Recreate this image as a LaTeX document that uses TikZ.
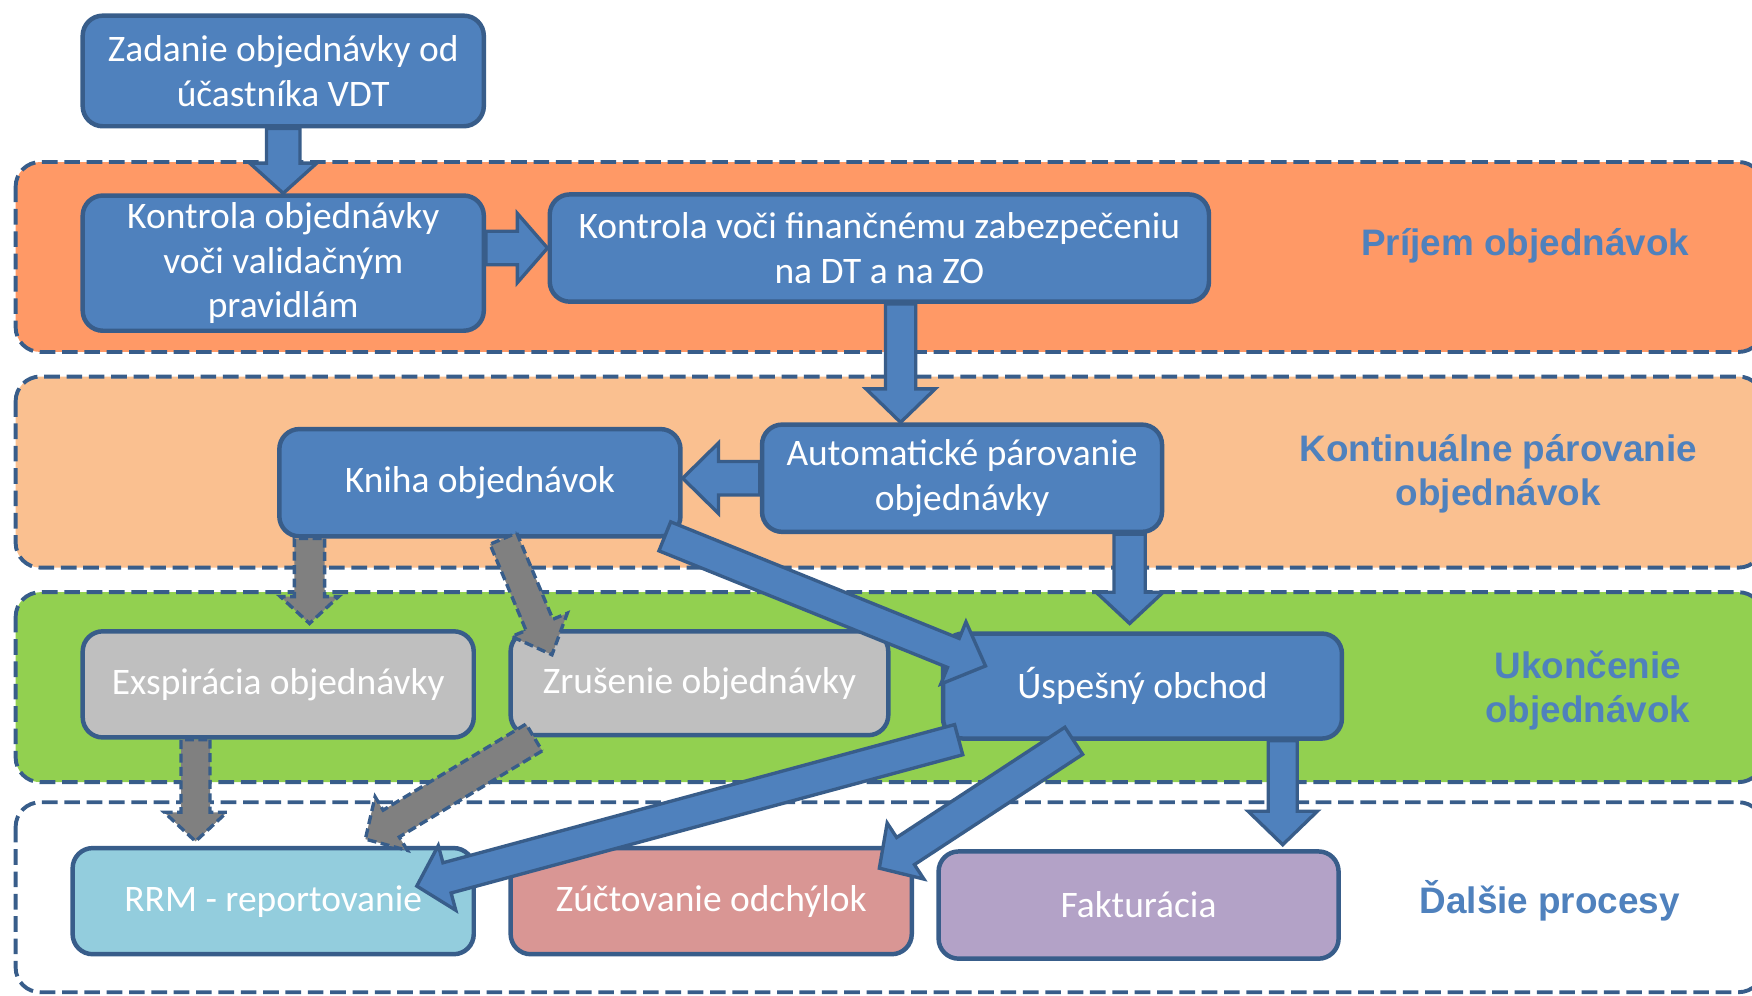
\documentclass[tikz,border=0pt]{standalone}
\usepackage{fontspec}
\setmainfont{Carlito}
\newfontfamily\labfont{Liberation Sans}
\usetikzlibrary{calc}
\definecolor{bluefill}{HTML}{4F81BD}
\definecolor{blueline}{HTML}{385D8A}
\definecolor{bandA}{HTML}{FF9966}
\definecolor{bandB}{HTML}{FAC090}
\definecolor{bandC}{HTML}{92D050}
\definecolor{grayfill}{HTML}{BFBFBF}
\definecolor{grayarrow}{HTML}{808080}
\definecolor{rrmfill}{HTML}{93CDDD}
\definecolor{zucfill}{HTML}{D99694}
\definecolor{faktfill}{HTML}{B3A2C7}
% block arrow: [style]{start}{tip}{shaft half width}{head half width}{head length}
\newcommand\barrow[6][]{%
  \draw[#1] let \p1=(#2), \p2=(#3),
    \n1={atan2(\y2-\y1,\x2-\x1)},
    \n2={veclen(\x2-\x1,\y2-\y1)-#6},
    \n3={#5-#4} in
    ($(\p1)+(\n1+90:#4)$) -- ++(\n1:\n2) -- ++(\n1+90:\n3) -- (\p2)
    -- ($(\p1)+(\n1-90:#5)+(\n1:\n2)$) -- ++(\n1+90:\n3)
    -- ($(\p1)+(\n1-90:#4)$) -- cycle;}
\tikzset{
  box/.style={draw=blueline, line width=4pt, rounded corners=18pt, fill=bluefill,
    text=white, align=center, inner sep=0pt,
    font=\fontsize{33.5}{40}\selectfont},
  band/.style={draw=blueline, line width=3.5pt, dash pattern=on 14pt off 6pt,
    rounded corners=22pt},
  lab/.style={text=bluefill, align=center, inner sep=0pt,
    font=\labfont\bfseries\fontsize{33}{39}\selectfont},
  blockarrow/.style={fill=bluefill, draw=blueline, line width=3pt, line join=miter},
  grayblock/.style={fill=grayarrow, draw=blueline, line width=3pt,
    dash pattern=on 8pt off 4pt, line join=miter},
}
\begin{document}
\begin{tikzpicture}[x=1pt,y=1pt]
\useasboundingbox (0,0) rectangle (1568,-891);
\clip (0,0) rectangle (1568,-891);
% bands
\draw[band, fill=bandA] (14,-145) rectangle (1578,-315);
\draw[band, fill=bandB] (14,-337) rectangle (1578,-508);
\draw[band, fill=bandC] (14,-530) rectangle (1578,-700);
\draw[band, fill=white] (14,-718) rectangle (1578,-888);
% band labels
\node[lab] (l1) at (1365,-220) {Príjem objednávok};
\node[lab] (l2) at (1341,-424) {Kontinuálne párovanie\\objednávok};
\node[lab] (l3) at (1421,-618) {Ukončenie\\objednávok};
\node[lab] (l4) at (1387,-806) {Ďalšie procesy};
% process boxes
\node[box, minimum width=359pt, minimum height=99pt] (zad) at (253.5,-63.5) {Zadanie objednávky od\\účastníka VDT};
\node[box, minimum width=359pt, minimum height=121pt] (k1) at (253.5,-235.5) {Kontrola objednávky\\voči validačným\\pravidlám};
\node[box, minimum width=590pt, minimum height=96pt] (k2) at (787,-222) {Kontrola voči finančnému zabezpečeniu\\na DT a na ZO};
\node[box, minimum width=359pt, minimum height=96pt] (kniha) at (429.5,-432) {Kniha objednávok};
\node[box, minimum width=358pt, minimum height=96pt] (auto) at (861,-428) {Automatické párovanie\\objednávky};
\node[box, fill=grayfill, minimum width=350pt, minimum height=95pt] (exp) at (249,-612.5) {Exspirácia objednávky};
\node[box, fill=grayfill, minimum width=338pt, minimum height=93pt] (zrus) at (626,-611.5) {Zrušenie objednávky};
\node[box, minimum width=357pt, minimum height=94pt] (usp) at (1022.5,-614) {Úspešný obchod};
\node[box, fill=rrmfill, minimum width=359pt, minimum height=95pt] (rrm) at (244.5,-806.5) {RRM - reportovanie};
\node[box, fill=zucfill, minimum width=359pt, minimum height=95pt] (zuc) at (636.5,-806.5) {Zúčtovanie odchýlok};
\node[box, fill=faktfill, minimum width=358pt, minimum height=96pt] (fakt) at (1019,-810) {Fakturácia};
% helper coordinates
\coordinate (t3) at ($(auto.north west)+(126,0)$);
\coordinate (t5) at ($(usp.north west)+(169,7)$);
\coordinate (t6) at ($(exp.north west)+(205,5)$);
\coordinate (t9) at ($(rrm.north west)+(112,4)$);
\coordinate (t13) at ($(fakt.north west)+(310,4)$);
% arrows
\barrow[blockarrow]{zad.south}{k1.north}{15}{30}{27}
\barrow[blockarrow]{k1.east |- k2.west}{k2.west}{15}{31}{27}
\barrow[blockarrow]{t3 |- k2.south}{t3}{13.5}{31}{30}
\barrow[blockarrow]{auto.west}{kniha.east |- auto.west}{15}{31.5}{32}
\barrow[blockarrow]{t5 |- auto.south}{t5}{14}{30}{28}
\barrow[grayblock]{t6 |- kniha.south}{t6}{13.5}{26}{24}
\barrow[grayblock]{$(kniha.south)+(21,0)$}{$(zrus.north west)+(39,-23)$}{13}{27}{29}
\barrow[blockarrow]{$(kniha.south east)+(-16,2)$}{$(usp.north west)+(40,-31)$}{14}{30}{31}
\barrow[grayblock]{t9 |- exp.south}{t9}{13}{28}{26}
\barrow[grayblock]{$(zrus.south west)+(23,0)$}{$(rrm.north west)+(264,6)$}{14}{28}{27}
\barrow[blockarrow]{$(usp.south west)+(16,1)$}{$(rrm.north west)+(310,-36)$}{14}{30}{28}
\barrow[blockarrow]{$(usp.south west)+(119,0)$}{$(zuc.north west)+(332,-20)$}{14.5}{30}{28}
\barrow[blockarrow]{t13 |- usp.south}{t13}{13}{31}{30}
\end{tikzpicture}
\end{document}
